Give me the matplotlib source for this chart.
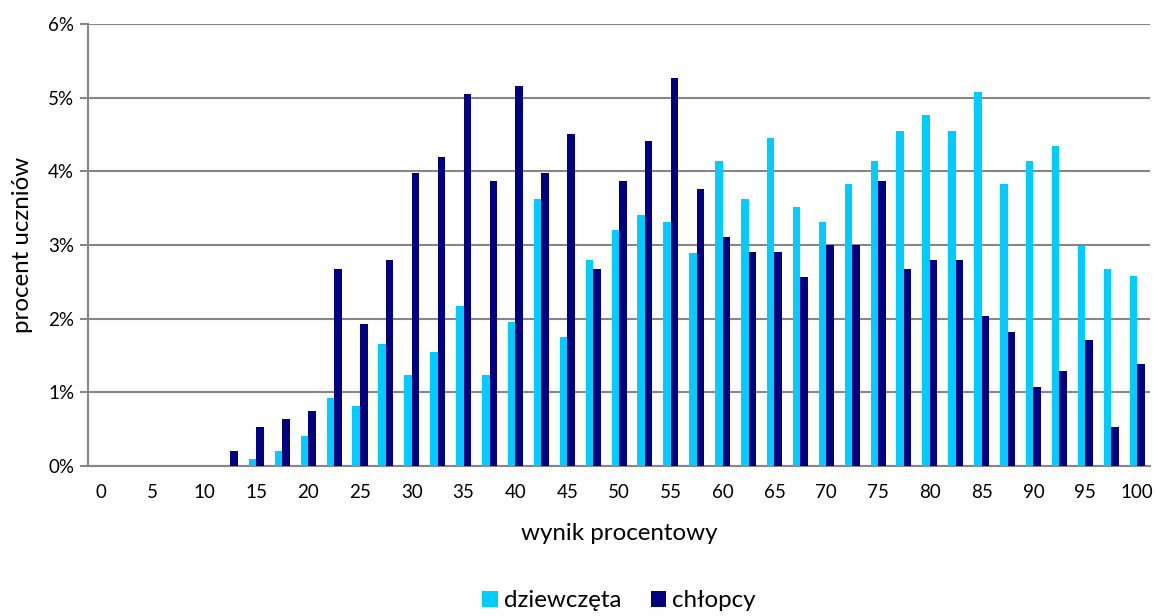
import numpy as np
import matplotlib
matplotlib.use("Agg")
import matplotlib.pyplot as plt
from matplotlib.ticker import FuncFormatter

plt.rcParams['font.family'] = ['Lato', 'DejaVu Sans']

# wynik procentowy co 2.5 pkt (0 ... 100)
wyniki = [i * 2.5 for i in range(41)]
etykiety = [str(int(w)) if w % 5 == 0 else '' for w in wyniki]

dziewczeta = [0, 0, 0, 0, 0, 0, 0.09, 0.20, 0.41, 0.92, 0.82, 1.65, 1.24, 1.55,
              2.17, 1.24, 1.96, 3.62, 1.75, 2.79, 3.20, 3.41, 3.31, 2.89, 4.14,
              3.62, 4.45, 3.52, 3.31, 3.83, 4.14, 4.55, 4.76, 4.55, 5.08, 3.83,
              4.14, 4.35, 2.99, 2.68, 2.58]
chlopcy = [0, 0, 0, 0, 0, 0.21, 0.53, 0.64, 0.75, 2.68, 1.93, 2.79, 3.98, 4.19,
           5.05, 3.87, 5.16, 3.98, 4.51, 2.68, 3.87, 4.41, 5.27, 3.76, 3.11,
           2.90, 2.90, 2.57, 3.00, 3.00, 3.87, 2.68, 2.79, 2.79, 2.04, 1.82,
           1.07, 1.29, 1.71, 0.53, 1.39]

x = np.arange(len(wyniki))
w = 0.29

fig = plt.figure(figsize=(11.55, 6.16), dpi=100)
ax = fig.add_axes([0.0762, 0.2435, 0.9195, 0.7175])

ax.bar(x - w / 2, dziewczeta, width=w, color='#00CCFF', label='dziewczęta', zorder=3)
ax.bar(x + w / 2, chlopcy, width=w, color='#000080', label='chłopcy', zorder=3)

ax.set_xlim(-0.5, len(wyniki) - 0.5)
ax.set_ylim(0, 6)
ax.set_yticks(range(7))
ax.yaxis.set_major_formatter(FuncFormatter(lambda v, p: '%d%%' % v))
ax.set_xticks(x)
ax.set_xticklabels(etykiety)
ax.tick_params(axis='x', length=0, labelsize=13.5, pad=13)
ax.tick_params(axis='y', length=6, width=1.5, color='#868686', labelsize=13.5, pad=4)
ax.grid(axis='y', color='#868686', linewidth=1.5, zorder=0)

for s in ['top', 'right']:
    ax.spines[s].set_visible(False)
for s in ['left', 'bottom']:
    ax.spines[s].set_color('#868686')
    ax.spines[s].set_linewidth(1.5)

ax.set_xlabel('wynik procentowy', fontsize=17.4, labelpad=16)
ax.set_ylabel('procent uczniów', fontsize=17.4, labelpad=11)

ax.legend(loc='center', bbox_to_anchor=(0.5, -0.305), ncol=2, frameon=False,
          fontsize=17.4, handlelength=0.65, handleheight=0.65, handletextpad=0.25,
          columnspacing=1.2, bbox_transform=ax.transAxes)

fig.savefig('out.png', dpi=100)
